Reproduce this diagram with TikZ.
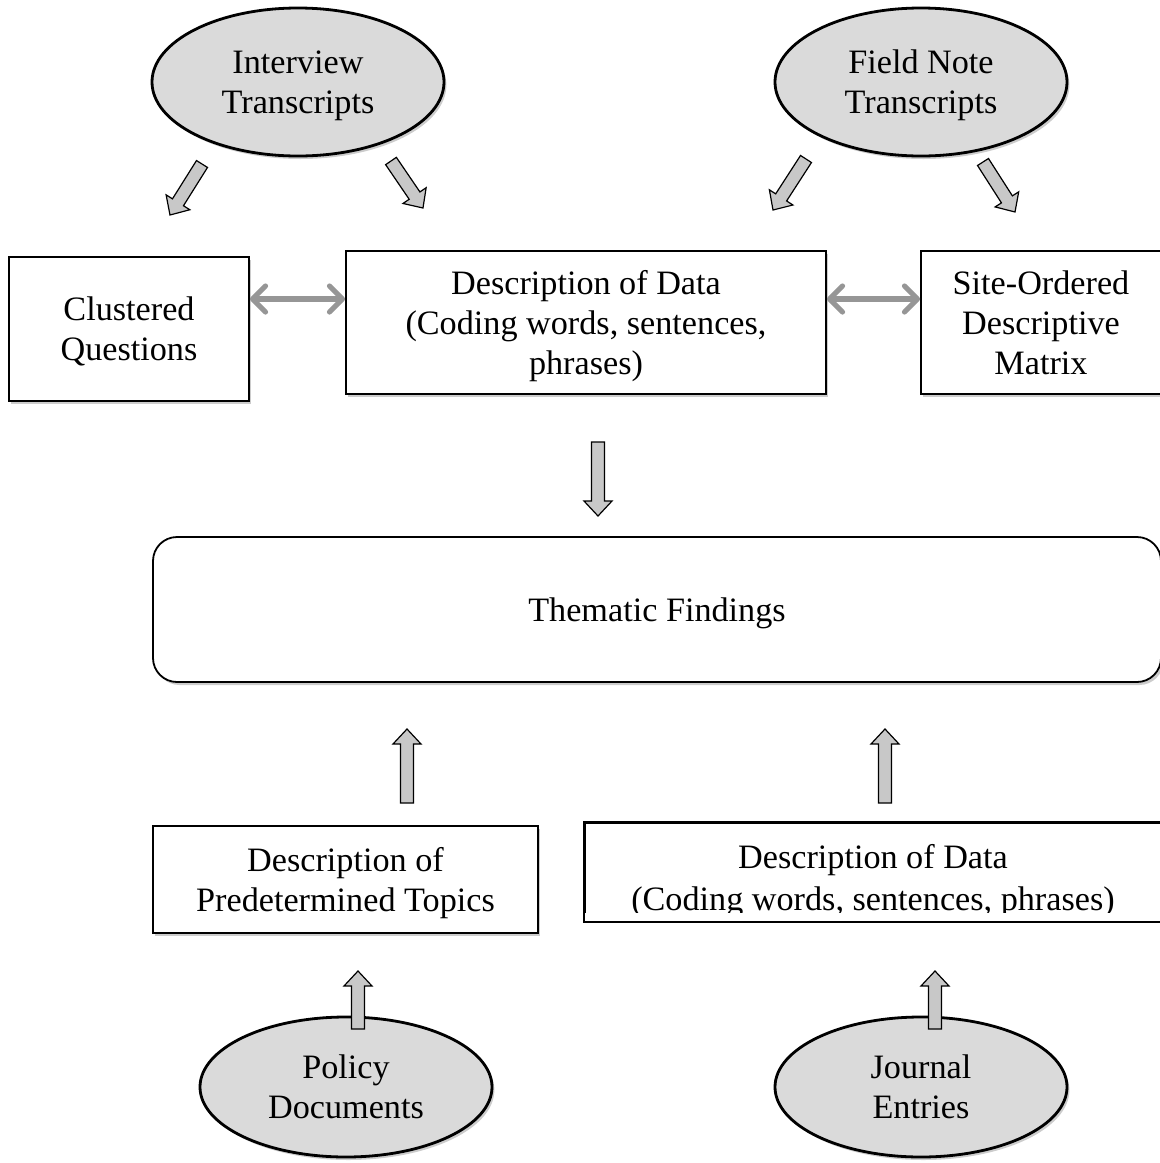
\documentclass[tikz,border=0pt]{standalone}
\usepackage{fontspec}
\setmainfont{Liberation Serif}
\usepackage{tikz}
\usetikzlibrary{shapes.geometric,arrows.meta,calc,shadows}
\definecolor{ovalGray}{RGB}{218,218,218}
\definecolor{arrowGray}{RGB}{200,200,200}
\definecolor{linkGray}{RGB}{150,150,150}
\newcommand{\blockarrow}[2]{%
	\coordinate (ba-c) at ($(#2)!7.5pt!(#1)$);
	\filldraw[blockarr] ($(#1)!3.25pt!-90:(#2)$) -- ($(ba-c)!3.25pt!-90:(#2)$) -- ($(ba-c)!7pt!-90:(#2)$)
		-- (#2) -- ($(ba-c)!7pt!90:(#2)$) -- ($(ba-c)!3.25pt!90:(#2)$) -- ($(#1)!3.25pt!90:(#2)$) -- cycle;}
\tikzset{
	softshadow/.style={drop shadow={shadow xshift=1.2pt, shadow yshift=-1.5pt, opacity=0.2, fill=black}},
	source/.style={ellipse, draw, line width=1.4pt, fill=ovalGray, inner sep=0pt, align=center, text depth=0pt, softshadow},
	stepbox/.style={rectangle, draw, line width=0.9pt, fill=white, inner sep=0pt, align=center, text depth=0pt, softshadow},
	blockarr/.style={fill=arrowGray, draw=black, line width=0.6pt, line join=miter},
	dblarr/.style={draw=linkGray, line width=2.6pt, {Straight Barb[round, length=6.5pt, width=13pt]}-{Straight Barb[round, length=6.5pt, width=13pt]}}
}

\begin{document}
\begin{tikzpicture}[x=0.5pt, y=-0.5pt, font=\fontsize{17.1}{20}\selectfont]
	\useasboundingbox (0,0) rectangle (1160,1163);

	% sources at the top
	\node[source, minimum width=146pt, minimum height=74pt] (int) at (298,82) {Interview\\Transcripts};
	\node[source, minimum width=146pt, minimum height=74pt] (fld) at (921,82) {Field Note\\Transcripts};

	% first row of boxes
	\node[stepbox, minimum width=120pt, minimum height=72pt] (clq) at (129,329) {Clustered\\Questions};
	\node[stepbox, minimum width=240pt, minimum height=71.5pt] (dsc) at (586,322.5) {Description of Data\\(Coding words, sentences,\\phrases)};
	\node[stepbox, minimum width=120pt, minimum height=71.5pt] (sit) at (1041,322.5) {Site-Ordered\\Descriptive\\Matrix};

	\node[stepbox, rounded corners=12pt, minimum width=504pt, minimum height=72.5pt] (thm) at (657,609.5) {Thematic Findings};

	% bottom row
	\node[stepbox, minimum width=192.5pt, minimum height=53.5pt] (pre) at (345.5,879.5) {Description of\\Predetermined Topics};
	\begin{scope}
		\clip (0,0) rectangle (1160,912);
		\node[stepbox, minimum width=288pt, minimum height=49pt, font=\fontsize{17.1}{21}\selectfont, text height=40pt, text depth=2pt] (dsb) at (873,872) {Description of Data\\(Coding words, sentences, phrases)};
	\end{scope}
	\draw[line width=0.9pt] (dsb.south west) rectangle (dsb.north east);

	\node[source, minimum width=146pt, minimum height=70pt] (pol) at (346,1087) {Policy\\Documents};
	\node[source, minimum width=146pt, minimum height=70pt] (jrn) at (921,1087) {Journal\\Entries};

	% ends of the block arrows
	\coordinate (intL) at (202,164);	\coordinate (clqT) at (170,215);
	\coordinate (intR) at (391,161);	\coordinate (dscL) at (423,208);
	\coordinate (fldL) at (806,159);	\coordinate (dscR) at (773,210);
	\coordinate (fldR) at (983,162);	\coordinate (sitT) at (1015,212);
	\coordinate (dscB) at (598,442);	\coordinate (thmT) at (598,516);
	\coordinate (preT) at (407,803);	\coordinate (thmL) at (407,729);
	\coordinate (dsbT) at (885,803);	\coordinate (thmR) at (885,729);
	\coordinate (polT) at (358,1029);	\coordinate (preB) at (358,971);
	\coordinate (jrnT) at (935,1029);	\coordinate (dsbB) at (935,971);

	\foreach \from/\to in {intL/clqT, intR/dscL, fldL/dscR, fldR/sitT, dscB/thmT, preT/thmL, dsbT/thmR, polT/preB, jrnT/dsbB}
		\blockarrow{\from}{\to};

	% links between the boxes
	\draw[dblarr] (clq.east |- 0,299) -- (dsc.west |- 0,299);
	\draw[dblarr] (dsc.east |- 0,299) -- (sit.west |- 0,299);
\end{tikzpicture}
\end{document}
